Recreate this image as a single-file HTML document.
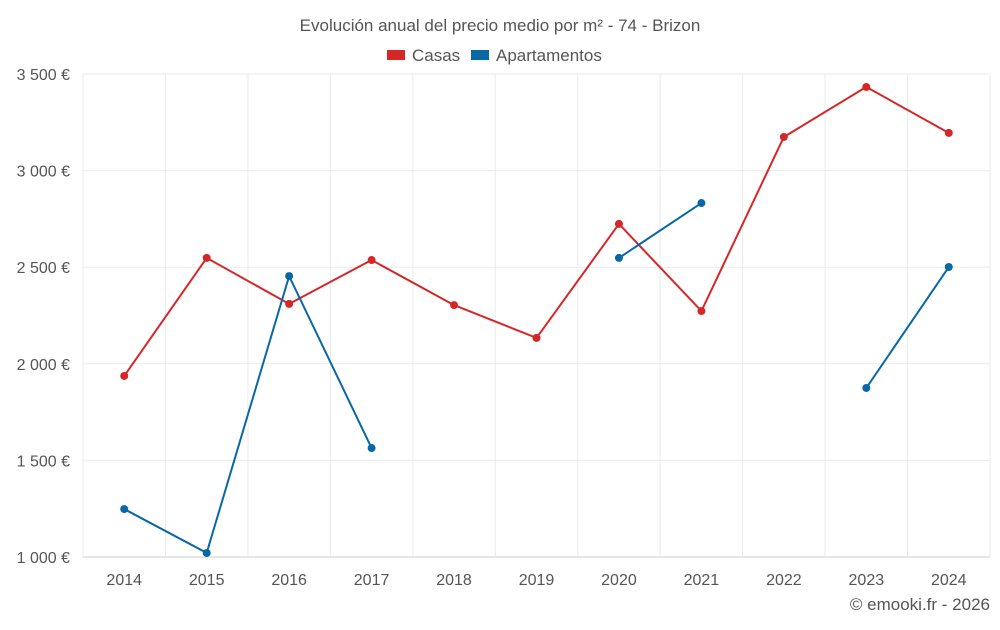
<!DOCTYPE html>
<html><head><meta charset="utf-8">
<style>
body{margin:0;background:#fff;font-family:"Liberation Sans",sans-serif;}
svg text{font-family:"Liberation Sans",sans-serif;fill:#555;}
</style></head>
<body>
<svg id="chart" width="1000" height="625" xmlns="http://www.w3.org/2000/svg">
<text x="500" y="31" text-anchor="middle" font-size="17">Evolución anual del precio medio por m² - 74 - Brizon</text>
<g>
<g><rect x="387" y="50" width="18" height="10" fill="#d62728"/><text x="412" y="61" font-size="17">Casas</text></g>
<g><rect x="471" y="50" width="18" height="10" fill="#0868a6"/><text x="496" y="61" font-size="17">Apartamentos</text></g>
</g>
<g id="grid"></g><g id="axes"></g><g id="series"></g>
<text x="990" y="610" text-anchor="end" font-size="17">© emooki.fr - 2026</text>
</svg>
<script>
const years=[2014,2015,2016,2017,2018,2019,2020,2021,2022,2023,2024];
const casas=[1937,2548,2310,2537,2304,2134,2724,2273,3174,3433,3195];
const apartamentos=[1248,1021,2454,1564,null,null,2548,2832,null,1875,2501];
const yTicks=[1000,1500,2000,2500,3000,3500];
const yLabels=["1 000 €","1 500 €","2 000 €","2 500 €","3 000 €","3 500 €"];
const L=83,R=990,T=74,B=557;
const NS="http://www.w3.org/2000/svg";
const step=(R-L)/years.length;
const x=i=>L+step*(i+0.5);
const y=v=>B-(v-1000)/2500*(B-T);
function mk(tag,attrs,parent){const e=document.createElementNS(NS,tag);for(const k in attrs)e.setAttribute(k,attrs[k]);parent.appendChild(e);return e;}
const g=document.getElementById('grid'),ax=document.getElementById('axes'),s=document.getElementById('series');
yTicks.forEach((t,i)=>{
 const l=mk('line',{x1:L,x2:R,y1:y(t),y2:y(t),stroke:i==0?'#ccc':'#ebebeb'},g);
 
 
 const tx=mk('text',{x:70,y:y(t)+6,'text-anchor':'end','font-size':16},ax);
 tx.textContent=yLabels[i];
 
 
});
for(let i=0;i<=years.length;i++){
 const l=mk('line',{x1:L+step*i,x2:L+step*i,y1:T,y2:B,stroke:'#ebebeb'},g);
 
 
}
years.forEach((yr,i)=>{
 const tx=mk('text',{x:x(i),y:585,'text-anchor':'middle','font-size':16},ax);
 tx.textContent=yr;
 
 
});
function draw(data,color,name){
 let segs=[],cur=[];
 data.forEach((v,i)=>{if(v==null){if(cur.length)segs.push(cur);cur=[];}else cur.push([x(i),y(v)]);});
 if(cur.length)segs.push(cur);
 segs.forEach(sg=>{
  const p=mk('polyline',{points:sg.map(p=>p.join(',')).join(' '),fill:'none',stroke:color,'stroke-width':2},s);
  
  
 });
 data.forEach((v,i)=>{if(v==null)return;
  const c=mk('circle',{cx:x(i),cy:y(v),r:4,fill:color},s);
  
  
 });
}
draw(casas,'#d62728','casas');
draw(apartamentos,'#0868a6','apartamentos');
</script>
</body></html>
